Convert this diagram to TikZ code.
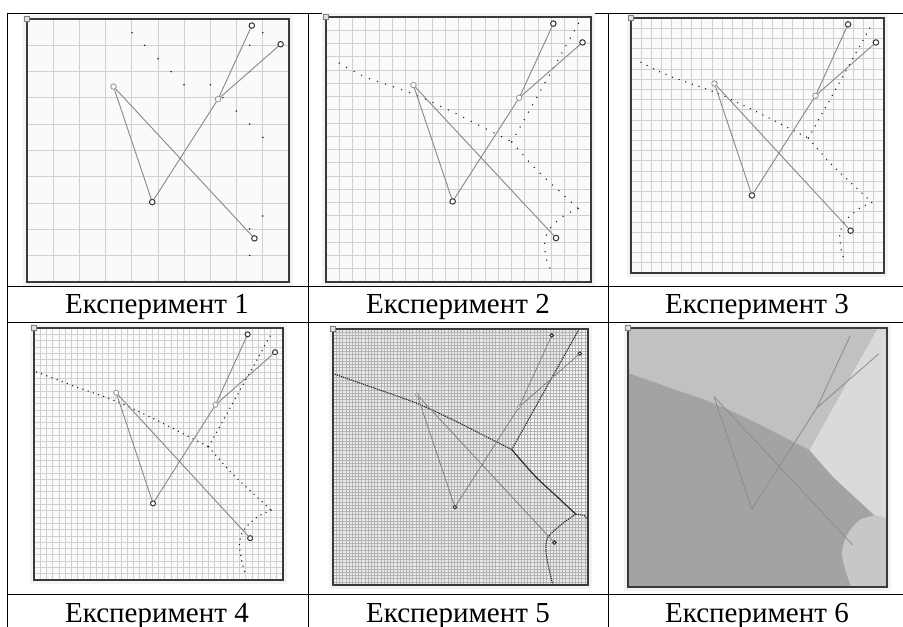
\documentclass[tikz,border=0pt]{standalone}
\usepackage{fontspec}
\setmainfont{Liberation Serif}
\definecolor{gridc}{HTML}{D0D0D0}
\definecolor{panelbg}{HTML}{FAFAFA}
\definecolor{marginbg}{HTML}{F3F3F3}
\definecolor{borderc}{HTML}{3A3A3A}
\definecolor{skelc}{HTML}{888888}
\definecolor{sixA}{HTML}{C1C1C1}
\definecolor{sixB}{HTML}{A3A3A3}
\definecolor{sixC}{HTML}{DADADA}
\definecolor{sixD}{HTML}{C7C7C7}
\definecolor{fiveA}{HTML}{EAEAEA}
\definecolor{fiveB}{HTML}{F6F6F6}
\definecolor{fivegrid}{HTML}{B4B4B4}
\newcommand{\panelgrid}[2]{%
  \pgfmathtruncatemacro\Nm{#1-1}%
  \foreach \i in {1,...,\Nm}{%
    \draw[gridln,#2] (\i/#1,0) -- (\i/#1,1);
    \draw[gridln,#2] (0,\i/#1) -- (1,\i/#1);
  }%
}
\newcommand{\drawskel}[2]{%
  \node[ptlight,minimum size=#2] (#1A) at (0.330,0.257) {};
  \node[ptdark,minimum size=#2] (#1B) at (0.478,0.696) {};
  \node[ptdark,minimum size=#2] (#1C) at (0.858,0.025) {};
  \node[ptdark,minimum size=#2] (#1D) at (0.968,0.096) {};
  \node[ptlight,minimum size=#2] (#1E) at (0.729,0.305) {};
  \node[ptdark,minimum size=#2] (#1F) at (0.868,0.834) {};
  \draw[skel] (#1A) -- (#1B) -- (#1E) -- (#1C);
  \draw[skel] (#1E) -- (#1D);
  \draw[skel] (#1A) -- (#1F);
}
\newcommand{\dottedbounds}[3]{%
  \draw[dotpath=#1] plot[smooth,tension=0.5] coordinates {(#2,0.174) (0.148,0.226) (0.328,0.290) (0.483,0.361) (0.637,0.439) (0.701,0.471)};
  \draw[dotpath=#1] plot[smooth,tension=0.5] coordinates {(0.701,0.471) (0.792,0.574) (0.882,0.658) (0.952,0.723)};
  \draw[dotpath=#1] (0.701,0.471) -- (0.955,0.02);
  \draw[dotpath=#1] plot[smooth,tension=0.5] coordinates {(0.952,0.723) (0.894,0.752) (0.840,0.805) (0.825,0.858) (0.834,0.923) (0.850,#3)};
}
\begin{document}
\begin{tikzpicture}[x=1pt,y=-1pt,
  tabline/.style={line width=1pt, draw=black},
  panelborder/.style={draw=borderc, line width=1.3pt},
  gridln/.style={draw=gridc, line width=0.9pt},
  skel/.style={draw=skelc, line width=0.9pt},
  ptdark/.style={circle, draw=black!80, fill=white, line width=1pt, inner sep=0pt},
  ptlight/.style={circle, draw=black!40, fill=white, line width=0.9pt, inner sep=0pt},
  dotpath/.style={draw=black!90, line width=1.5pt, line cap=round, dash pattern=on 0pt off #1},
  corner/.style={draw=black!50, fill=black!12, line width=0.7pt, minimum size=5pt, inner sep=0pt},
  bound/.style={draw=black!85, line width=1.1pt},
  boundd/.style={draw=black!85, line width=1.1pt, dash pattern=on 1.2pt off 0.9pt},
  caption/.style={font=\fontsize{29}{34}\selectfont, anchor=base, inner sep=0pt}]
\useasboundingbox (0,0) rectangle (903,627);
\fill[white] (0,0) rectangle (903,627);

% ---------- table ----------
\draw[tabline] (7.5,13) -- (910,13);
\draw[tabline] (7.5,286) -- (910,286);
\draw[tabline] (7.5,322) -- (910,322);
\draw[tabline] (7.5,594) -- (910,594);
\draw[tabline] (7.5,13) -- (7.5,640);
\draw[tabline] (308,13) -- (308,640);
\draw[tabline] (608,13) -- (608,640);

\node[caption] (cap1) at (157,313) {Експеримент 1};
\node[caption] (cap2) at (458,313) {Експеримент 2};
\node[caption] (cap3) at (757,313) {Експеримент 3};
\node[caption] (cap4) at (157,622) {Експеримент 4};
\node[caption] (cap5) at (458,622) {Експеримент 5};
\node[caption] (cap6) at (757,622) {Експеримент 6};

% ---------- panel 1 ----------
\begin{scope}[shift={(27,19)}]
  \fill[marginbg] (-4,-4) rectangle (266,267);
  \begin{scope}[x=262pt,y=-263pt]
    \fill[panelbg] (0,0) rectangle (1,1);
    \panelgrid{10}{}
    \foreach \p in {(0.401,0.052),(0.449,0.100),(0.5,0.151),(0.550,0.200),(0.599,0.250),(0.700,0.250),(0.748,0.299),(0.799,0.350),(0.850,0.399),(0.9,0.450),(0.850,0.100),(0.850,0.200),(0.9,0.052),(0.850,0.798),(0.9,0.749),(0.850,0.899)}
      \fill[black!90] \p circle[radius=0.85pt];
    \drawskel{pa}{5.5pt}
    \draw[panelborder] (0,0) rectangle (1,1);
  \end{scope}
  \node[corner] (sq1) at (0,0) {};
\end{scope}

% ---------- panel 2 ----------
\begin{scope}[shift={(326,17)}]
  \fill[marginbg] (-4,-4) rectangle (269,269);
  \begin{scope}[x=265pt,y=-265pt]
    \fill[panelbg] (0,0) rectangle (1,1);
    \panelgrid{20}{}
    \dottedbounds{8.5pt}{0.05}{0.955}
    \drawskel{pb}{5.5pt}
    \draw[panelborder] (0,0) rectangle (1,1);
  \end{scope}
  \node[corner] (sq2) at (0,0) {};
\end{scope}

% ---------- panel 3 ----------
\begin{scope}[shift={(631,18)}]
  \fill[marginbg] (-4,-4) rectangle (257,259);
  \begin{scope}[x=253pt,y=-255pt]
    \fill[panelbg] (0,0) rectangle (1,1);
    \panelgrid{25}{}
    \dottedbounds{7pt}{0.039}{0.955}
    \drawskel{pc}{5.5pt}
    \draw[panelborder] (0,0) rectangle (1,1);
  \end{scope}
  \node[corner] (sq3) at (0,0) {};
\end{scope}

% ---------- panel 4 ----------
\begin{scope}[shift={(34,328)}]
  \fill[marginbg] (-4,-4) rectangle (253,256);
  \begin{scope}[x=249pt,y=-252pt]
    \fill[panelbg] (0,0) rectangle (1,1);
    \panelgrid{40}{line width=0.7pt}
    \dottedbounds{5.5pt}{0.01}{0.98}
    \drawskel{pd}{5pt}
    \draw[panelborder] (0,0) rectangle (1,1);
  \end{scope}
  \node[corner] (sq4) at (0,0) {};
\end{scope}

% ---------- panel 5 ----------
\begin{scope}[shift={(333,329)}]
  \fill[marginbg] (-4,-4) rectangle (259,260);
  \begin{scope}[x=255pt,y=-256pt]
    \fill[fiveA] (0,0) rectangle (1,1);
    \fill[fiveB] (0.701,0.471) -- (0.965,0) -- (1,0) -- (1,0.735) -- (0.952,0.723) -- plot[smooth,tension=0.5] coordinates {(0.952,0.723) (0.882,0.658) (0.792,0.574) (0.701,0.471)} -- cycle;
    \panelgrid{80}{draw=fivegrid,line width=0.4pt}
    \draw[boundd] plot[smooth,tension=0.5] coordinates {(0,0.174) (0.148,0.226) (0.328,0.290) (0.483,0.361) (0.637,0.439) (0.701,0.471)};
    \draw[bound] plot[smooth,tension=0.5] coordinates {(0.701,0.471) (0.792,0.574) (0.882,0.658) (0.952,0.723)};
    \draw[boundd] (0.701,0.471) -- (0.965,0);
    \draw[boundd] (0.952,0.723) -- (0.985,0.728) -- (1,0.745);
    \draw[boundd] plot[smooth,tension=0.5] coordinates {(0.952,0.723) (0.900,0.760) (0.842,0.815) (0.835,0.870) (0.848,0.940) (0.862,1)};
    \drawskel{pe}{3.5pt}
    \draw[panelborder] (0,0) rectangle (1,1);
  \end{scope}
  \node[corner] (sq5) at (0,0) {};
\end{scope}

% ---------- panel 6 ----------
\begin{scope}[shift={(628,328)}]
  \fill[marginbg] (-4,-4) rectangle (263,263);
  \begin{scope}[x=259pt,y=-259pt]
    \fill[sixA] (0,0) rectangle (1,1);
    \fill[sixB] plot[smooth,tension=0.5] coordinates {(0,0.174) (0.148,0.226) (0.328,0.290) (0.483,0.361) (0.637,0.439) (0.701,0.471)} -- plot[smooth,tension=0.5] coordinates {(0.701,0.471) (0.792,0.574) (0.882,0.658) (0.952,0.723)} -- plot[smooth,tension=0.5] coordinates {(0.952,0.723) (0.894,0.742) (0.849,0.794) (0.827,0.858) (0.836,0.923) (0.862,1)} -- (0,1) -- cycle;
    \fill[sixC] (0.701,0.471) -- (0.965,0) -- (1,0) -- (1,0.735) -- (0.952,0.723) -- plot[smooth,tension=0.5] coordinates {(0.952,0.723) (0.882,0.658) (0.792,0.574) (0.701,0.471)} -- cycle;
    \fill[sixD] (0.952,0.723) -- (1,0.735) -- (1,1) -- (0.862,1) -- plot[smooth,tension=0.5] coordinates {(0.862,1) (0.836,0.923) (0.827,0.858) (0.849,0.794) (0.894,0.742) (0.952,0.723)} -- cycle;
    \coordinate (pfA) at (0.332,0.265);
    \coordinate (pfB) at (0.478,0.700);
    \coordinate (pfC) at (0.858,0.030);
    \coordinate (pfD) at (0.968,0.100);
    \coordinate (pfE) at (0.729,0.308);
    \coordinate (pfF) at (0.868,0.838);
    \draw[draw=black!45, line width=0.8pt] (pfA) -- (pfB) -- (pfE) -- (pfC);
    \draw[draw=black!45, line width=0.8pt] (pfE) -- (pfD);
    \draw[draw=black!45, line width=0.8pt] (pfA) -- (pfF);
    \draw[panelborder] (0,0) rectangle (1,1);
  \end{scope}
  \node[corner] (sq6) at (0,0) {};
\end{scope}
\end{tikzpicture}
\end{document}
